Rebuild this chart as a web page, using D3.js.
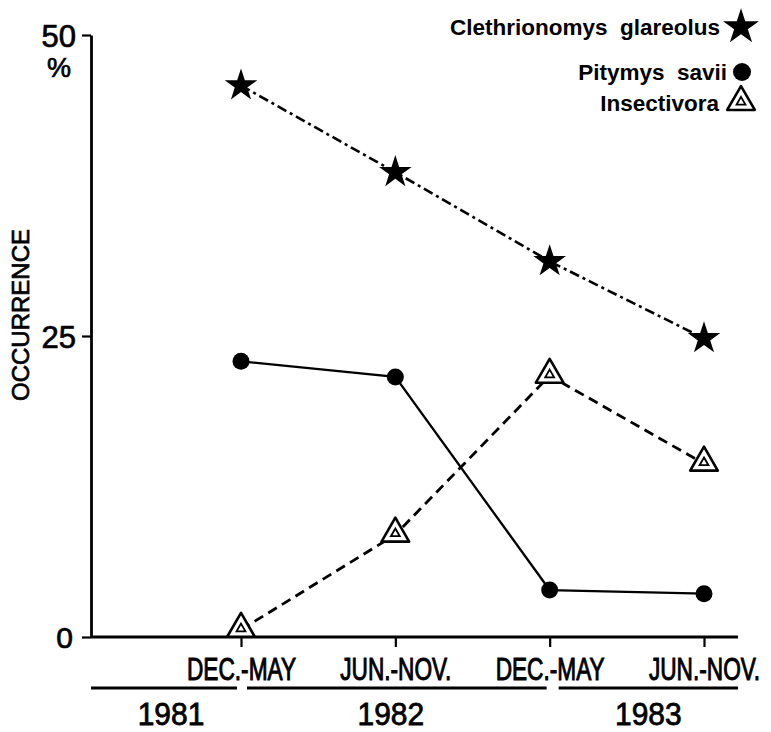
<!DOCTYPE html>
<html>
<head>
<meta charset="utf-8">
<script src="https://cdn.jsdelivr.net/npm/d3@7"></script>
<style>
  body { margin: 0; background: #fff; }
  svg text { font-family: "Liberation Sans", Arial, sans-serif; fill: #000; }
  .heavy { stroke: #000; stroke-width: 0.7px; }
</style>
</head>
<body>
<svg id="chart" width="771" height="732"></svg>
<script>
var periods = ["DEC.-MAY", "JUN.-NOV.", "DEC.-MAY ", "JUN.-NOV. "];
var periodLabels = ["DEC.-MAY", "JUN.-NOV.", "DEC.-MAY", "JUN.-NOV."];
var years = ["1981", "1982", "1983"];
var yTicks = [0, 25, 50];

var clethrionomys = [45.8, 38.6, 31.2, 24.8];
var pitymys = [22.9, 21.6, 3.9, 3.6];
var insectivora = [0.6, 8.5, 21.7, 14.4];

const svg = d3.select("#chart");
const left = 91, right = 738;

// Scales.
const x = d3.scalePoint()
  .domain(periods)
  .range([241, 704]);
const y = d3.scaleLinear()
  .domain([0, 50])
  .range([637, 35]);

// Y axis.
var yAxis = d3.axisLeft(y)
  .tickValues(yTicks)
  .tickSizeInner(9)
  .tickSizeOuter(0)
  .tickPadding(6);

const gy = svg.append("g")
  .attr("transform", "translate(" + left + ",0)")
  .call(yAxis);
gy.select(".domain").attr("stroke-width", 2.8);
gy.selectAll(".tick line").attr("stroke-width", 2.2);
gy.selectAll(".tick text")
  .attr("class", "heavy")
  .style("font-size", function(d) { return d == 0 ? "30px" : "31px"; })
  .attr("dy", "0.36em")
  .attr("dx", function(d) { return d == 0 ? -3 : 0; });

svg.append("text")
  .attr("class", "heavy")
  .attr("x", 59).attr("y", 77)
  .attr("text-anchor", "middle")
  .style("font-size", "27px")
  .text("%");

svg.append("text")
  .attr("class", "heavy")
  .attr("transform", "translate(29,315) rotate(-90)")
  .attr("text-anchor", "middle")
  .style("font-size", "24px")
  .text("OCCURRENCE");

// X axis.
var xAxis = d3.axisBottom(x)
  .tickSizeInner(10)
  .tickSizeOuter(0)
  .tickFormat(function(d, i) { return periodLabels[i]; });

const gx = svg.append("g")
  .attr("transform", "translate(0," + y(0) + ")")
  .call(xAxis);
gx.select(".domain").remove();
gx.selectAll(".tick line").attr("stroke-width", 2.2);
gx.selectAll(".tick text")
  .attr("class", "heavy")
  .attr("y", 0).attr("dy", 0)
  .style("font-size", "22px")
  .attr("transform", "translate(0,43) scale(1.03,1.45)");

svg.append("line")
  .attr("x1", left).attr("x2", right)
  .attr("y1", y(0)).attr("y2", y(0))
  .attr("stroke", "#000")
  .attr("stroke-width", 2.8);

// Year brackets.
var xs = periods.map(function(p) { return x(p); });
var yearSpans = [
  [left, xs[0] - 4],
  [xs[0] + 6, xs[2] - 3],
  [xs[2] + 9, right]
];
var yearShift = [7, -6, 0];
var yearG = svg.append("g");
yearG.selectAll("line")
  .data(years)
  .enter().append("line")
  .attr("x1", function(d, i) { return yearSpans[i][0]; })
  .attr("x2", function(d, i) { return yearSpans[i][1]; })
  .attr("y1", 688).attr("y2", 688)
  .attr("stroke", "#000")
  .attr("stroke-width", 3);
yearG.selectAll("text")
  .data(years)
  .enter().append("text")
  .attr("class", "heavy")
  .attr("transform", function(d, i) {
    var cx = (yearSpans[i][0] + yearSpans[i][1]) / 2 + yearShift[i];
    return "translate(" + cx + ",725) scale(1.07,1.1)";
  })
  .attr("text-anchor", "middle")
  .style("font-size", "28px")
  .text(function(d) { return d; });

// Lines.
const line = d3.line()
  .x(function(d, i) { return x(periods[i]); })
  .y(function(d) { return y(d); });

svg.append("path")
  .datum(clethrionomys)
  .attr("fill", "none")
  .attr("stroke", "#000")
  .attr("stroke-width", 2.6)
  .attr("stroke-dasharray", "10,4,3,4")
  .attr("d", line);

svg.append("path")
  .datum(pitymys)
  .attr("fill", "none")
  .attr("stroke", "#000")
  .attr("stroke-width", 2.3)
  .attr("d", line);

svg.append("path")
  .datum(insectivora)
  .attr("fill", "none")
  .attr("stroke", "#000")
  .attr("stroke-width", 2.8)
  .attr("stroke-dasharray", "10,6")
  .attr("d", line);

// Markers.
const star = d3.symbol().type(d3.symbolStar).size(330);
const triOuter = d3.symbol().type(d3.symbolTriangle).size(330);
const triInner = d3.symbol().type(d3.symbolTriangle).size(34);

function drawTri(g) {
  g.append("path")
    .attr("d", triOuter)
    .attr("fill", "#fff")
    .attr("stroke", "#000")
    .attr("stroke-width", 2.6)
    .attr("stroke-linejoin", "round");
  g.append("path")
    .attr("d", triInner)
    .attr("fill", "#fff")
    .attr("stroke", "#000")
    .attr("stroke-width", 1.8);
}

svg.selectAll(".star")
  .data(clethrionomys)
  .enter().append("path")
  .attr("class", "star")
  .attr("transform", function(d, i) { return "translate(" + x(periods[i]) + "," + y(d) + ")"; })
  .attr("d", star);

svg.selectAll(".dot")
  .data(pitymys)
  .enter().append("circle")
  .attr("class", "dot")
  .attr("cx", function(d, i) { return x(periods[i]); })
  .attr("cy", function(d) { return y(d); })
  .attr("r", 8.5);

svg.selectAll(".tri")
  .data(insectivora)
  .enter().append("g")
  .attr("class", "tri")
  .attr("transform", function(d, i) { return "translate(" + x(periods[i]) + "," + (y(d) - 1) + ")"; })
  .call(drawTri);

// Legend.
var legendNames = ["Clethrionomys  glareolus", "Pitymys  savii", "Insectivora"];
var legendY = [27, 72, 103];
var legendTextX = [720, 727, 719];

svg.selectAll(".legend")
  .data(legendNames)
  .enter().append("text")
  .attr("class", "legend")
  .attr("x", function(d, i) { return legendTextX[i]; })
  .attr("y", function(d, i) { return legendY[i]; })
  .attr("dy", "0.35em")
  .attr("text-anchor", "end")
  .style("font-size", "22.5px")
  .style("font-weight", "bold")
  .style("white-space", "pre")
  .text(function(d) { return d; });

svg.append("path")
  .attr("transform", "translate(741," + legendY[0] + ") scale(1.1)")
  .attr("d", star);
svg.append("circle")
  .attr("cx", 742).attr("cy", legendY[1])
  .attr("r", 9);
svg.append("g")
  .attr("transform", "translate(741," + (legendY[2] - 1) + ")")
  .call(drawTri);
</script>
</body>
</html>
